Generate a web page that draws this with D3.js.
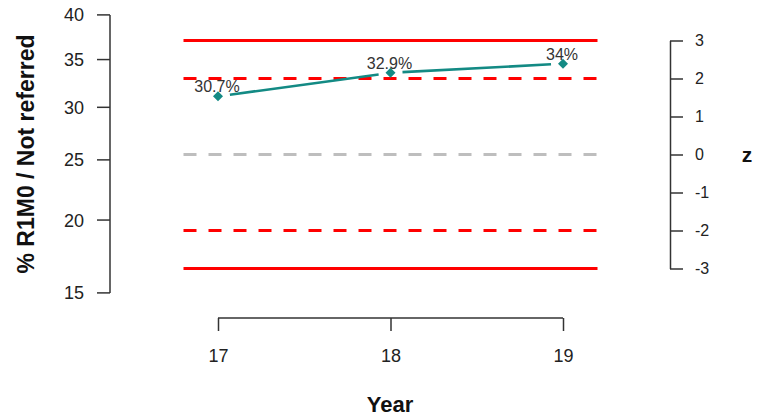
<!DOCTYPE html>
<html><head><meta charset="utf-8">
<script src="https://cdn.jsdelivr.net/npm/d3@7"></script>
<style>
html,body{margin:0;padding:0;background:#fff;}
svg{display:block;font-family:"Liberation Sans",Arial,sans-serif;}
</style></head>
<body>
<svg id="chart" width="758" height="416"></svg>
<script>
// ---- data ----
const years = [17, 18, 19];
const zValues = [1.53, 2.15, 2.39];              // plotted z-scores (right axis)
const pctLabels = ["30.7%", "32.9%", "34%"];     // point labels
const pctTicks = [15, 20, 25, 30, 35, 40];       // left axis (logit scaled)
const zTicks = [-3, -2, -1, 0, 1, 2, 3];
const limitZ = [3, 2, 0, -2, -3];
const limitKind = ["solid", "dash", "center", "dash", "solid"];

const svg = d3.select("#chart");
svg.append("rect").attr("width", 758).attr("height", 416).attr("fill", "#fff");

const logit = p => Math.log(p / (1 - p));
const x = d3.scaleLinear().domain([16.8, 19.2]).range([183.5, 597.5]);
const yz = d3.scaleLinear().domain([-3, 3]).range([268.5, 40.5]);
const yl = d3.scaleLinear().domain([logit(0.15), logit(0.40)]).range([292.9, 14.9]);
const yPct = v => yl(logit(v / 100));

const axisCol = "#333";
const fontFam = "Liberation Sans, Arial, sans-serif";

// control lines
const lineStyle = {
  solid: {c: "#ff0000", d: null},
  dash: {c: "#ff0000", d: "13,12"},
  center: {c: "#bebebe", d: "13,12"}
};
limitZ.forEach((z, i) => {
  const s = lineStyle[limitKind[i]];
  svg.append("line")
    .attr("x1", x.range()[0]).attr("x2", x.range()[1])
    .attr("y1", yz(z)).attr("y2", yz(z))
    .attr("stroke", s.c).attr("stroke-width", 3)
    .attr("stroke-dasharray", s.d);
});

// data line with gaps around points (type "b")
const pts = years.map((yr, i) => [x(yr), yz(zValues[i])]);
const gap = 12;
for (let i = 0; i < pts.length - 1; i++) {
  const [x0, y0] = pts[i], [x1, y1] = pts[i + 1];
  const L = Math.hypot(x1 - x0, y1 - y0);
  const ux = (x1 - x0) / L, uy = (y1 - y0) / L;
  svg.append("line")
    .attr("x1", x0 + ux * gap).attr("y1", y0 + uy * gap)
    .attr("x2", x1 - ux * gap).attr("y2", y1 - uy * gap)
    .attr("stroke", "#138a84").attr("stroke-width", 2.6);
}
// diamonds
svg.selectAll(".pt").data(pts).enter().append("path")
  .attr("d", d3.symbol(d3.symbolSquare, 50))
  .attr("transform", d => `translate(${d[0]},${d[1]}) rotate(45)`)
  .attr("fill", "#138a84");
// labels
svg.selectAll(".lbl").data(pts).enter().append("text")
  .attr("x", d => d[0] - 1).attr("y", d => d[1] - 4)
  .attr("text-anchor", "middle").attr("font-size", 16)
  .attr("fill", "#333")
  .text((d, i) => pctLabels[i]);

// left axis
const gL = svg.append("g");
gL.append("line").attr("x1", 110).attr("x2", 110)
  .attr("y1", yPct(pctTicks[0])).attr("y2", yPct(pctTicks[pctTicks.length - 1]))
  .attr("stroke", axisCol).attr("stroke-width", 1.5);
pctTicks.forEach(t => {
  gL.append("line").attr("x1", 97).attr("x2", 110)
    .attr("y1", yPct(t)).attr("y2", yPct(t))
    .attr("stroke", axisCol).attr("stroke-width", 1.5);
  gL.append("text").attr("x", 84).attr("y", yPct(t)).attr("dy", "0.36em")
    .attr("text-anchor", "end").attr("font-size", 18).attr("fill", "#222")
    .text(t);
});

// right axis (z)
const gR = svg.append("g").attr("transform", "translate(670,0)");
const axR = d3.axisRight(yz).tickValues(zTicks).tickSize(13).tickPadding(12).tickSizeOuter(0)
  .tickFormat(d => String(d));
gR.call(axR);
gR.select(".domain").attr("stroke", axisCol).attr("stroke-width", 1.5);
gR.selectAll(".tick line").attr("stroke", axisCol).attr("stroke-width", 1.5);
gR.selectAll(".tick text").attr("font-size", 16).attr("fill", "#222")
  .attr("font-family", fontFam);

// bottom axis
const gB = svg.append("g").attr("transform", "translate(0,318)");
const axB = d3.axisBottom(x).tickValues(years).tickSize(13).tickPadding(18).tickSizeOuter(0)
  .tickFormat(d => String(d));
gB.call(axB);
gB.select(".domain").attr("d", `M${x(17)},0H${x(19)}`)
  .attr("stroke", axisCol).attr("stroke-width", 1.5);
gB.selectAll(".tick line").attr("stroke", axisCol).attr("stroke-width", 1.5);
gB.selectAll(".tick text").attr("font-size", 18).attr("fill", "#222")
  .attr("font-family", fontFam);

// titles
svg.append("text").attr("transform", "translate(34,154) rotate(-90)")
  .attr("text-anchor", "middle").attr("font-size", 23).attr("font-weight", "bold")
  .attr("fill", "#111").text("% R1M0 / Not referred");
svg.append("text").attr("x", 390).attr("y", 412)
  .attr("text-anchor", "middle").attr("font-size", 22).attr("font-weight", "bold")
  .attr("fill", "#111").text("Year");
svg.append("text").attr("x", 747).attr("y", 162)
  .attr("text-anchor", "middle").attr("font-size", 21).attr("font-weight", "bold")
  .attr("fill", "#111").text("z");
</script>
</body></html>
